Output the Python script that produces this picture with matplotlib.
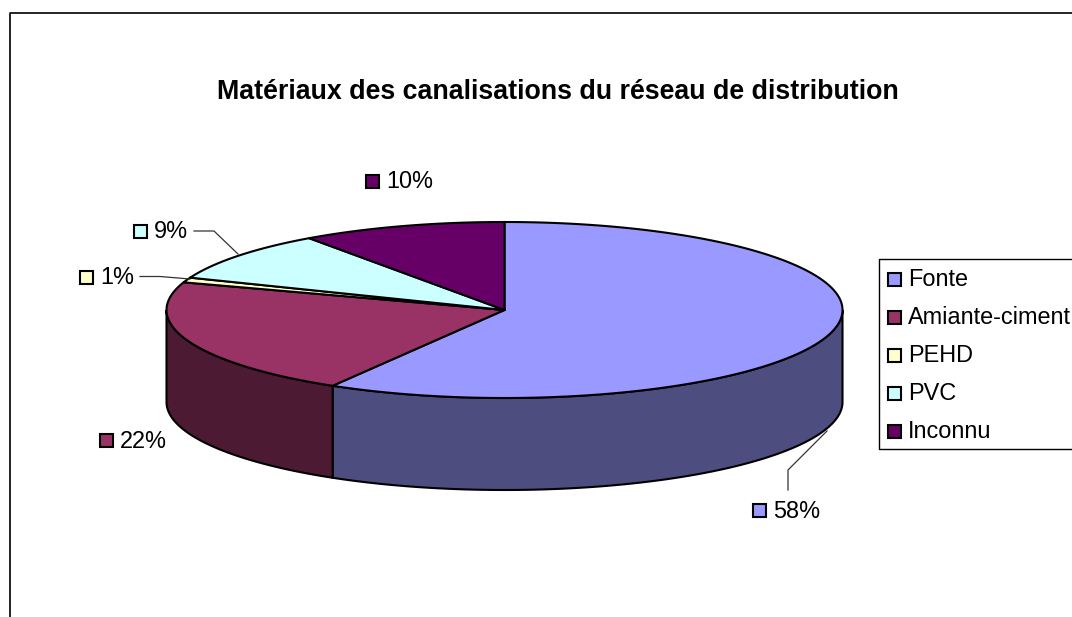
import numpy as np
import matplotlib
matplotlib.use("Agg")
import matplotlib.pyplot as plt
from matplotlib.patches import Polygon, Rectangle

plt.rcParams['font.family'] = ['Liberation Sans', 'DejaVu Sans']

title = "Matériaux des canalisations du réseau de distribution"
categories = ["Fonte", "Amiante-ciment", "PEHD", "PVC", "Inconnu"]
values = [58.49, 21.6, 0.9, 9.2, 9.81]
top_colors = ["#9999FF", "#993366", "#FFFFCC", "#CCFFFF", "#660066"]
side_colors = ["#4D4D80", "#4D1A33", "#808066", "#668080", "#330033"]

fig = plt.figure(figsize=(10.72, 6.17), dpi=100)
ax = fig.add_axes([0, 0, 1, 1])
ax.set_xlim(0, 1072)
ax.set_ylim(617, 0)
ax.axis('off')

EDGE = "#000000"
cx, cy, rx, ry, depth = 504.5, 310, 338, 88, 92


def rim(a0, a1, dy=0):
    t = np.radians(np.linspace(a0, a1, max(int(abs(a1 - a0) * 2), 2)))
    return np.column_stack([cx + rx * np.sin(t), cy - ry * np.cos(t) + dy])


# frame (runs off the right and bottom of the picture)
ax.plot([10, 10, 1072], [617, 12.5, 12.5], color="black", lw=1.2, zorder=1)

edges = np.concatenate([[0], np.cumsum(values)]) / sum(values) * 360

# side walls: only the front half (90..270 degrees) is visible
for i, c in enumerate(side_colors):
    a0, a1 = max(edges[i], 90), min(edges[i + 1], 270)
    if a1 > a0:
        up = rim(a0, a1)
        low = rim(a0, a1, depth)[::-1]
        ax.add_patch(Polygon(np.vstack([up, low]), closed=True, fc=c, ec=EDGE, lw=1.5, zorder=2))

# top faces
for i, c in enumerate(top_colors):
    pts = np.vstack([[cx, cy], rim(edges[i], edges[i + 1])])
    ax.add_patch(Polygon(pts, closed=True, fc=c, ec=EDGE, lw=1.5, zorder=3, joinstyle='round'))

# data labels
labels = [f"{round(v)}%" for v in values]
label_swatch = [(753, 504), (100, 434), (80, 271), (134, 225), (366, 175)]
for lab, (sx, sy), c in zip(labels, label_swatch, top_colors):
    ax.add_patch(Rectangle((sx, sy), 13, 13, fc=c, ec="black", lw=1.5, zorder=5))
    ax.text(sx + 20, sy + 7, lab, fontsize=16.9, va='center', ha='left', color="black", zorder=5)

# leader lines
leader_color = "#333333"
ax.plot([788, 788, 827], [490, 470, 431], color=leader_color, lw=0.9, zorder=4)
ax.plot([140, 160, 190], [276.5, 276.5, 279], color=leader_color, lw=0.9, zorder=4)
ax.plot([194, 214, 238], [231, 231, 254], color=leader_color, lw=0.9, zorder=4)

# title
ax.text(558, 92, title, fontsize=19.3, fontweight='bold', ha='center', va='center', color="black")

# legend
ax.plot([1072, 878.5, 878.5, 1072], [258.5, 258.5, 448.5, 448.5], color="black", lw=1.0, zorder=4)
legend_y = [278, 316, 354, 392, 430]
for name, y, c in zip(categories, legend_y, top_colors):
    ax.add_patch(Rectangle((888, y - 5), 13, 13, fc=c, ec="black", lw=1.5, zorder=5))
    ax.text(908, y + 1, name, fontsize=16.9, va='center', ha='left', color="black", zorder=5)

fig.savefig("out.png", dpi=100)
